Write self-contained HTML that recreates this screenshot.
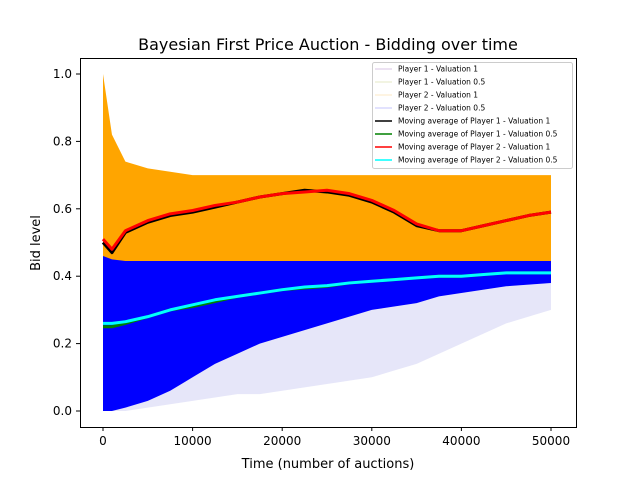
<!DOCTYPE html>
<html><head><meta charset="utf-8"><style>
body{margin:0;background:#fff;font-family:"Liberation Sans","DejaVu Sans",sans-serif}
svg text{font-family:"DejaVu Sans","Liberation Sans",sans-serif}
</style></head><body>
<svg id="chart" width="640" height="480" viewBox="0 0 640 480" xmlns="http://www.w3.org/2000/svg">
<rect width="640" height="480" fill="#fff"/>
<text x="328" y="50" font-size="16" text-anchor="middle">Bayesian First Price Auction - Bidding over time</text>
<g id="plot"></g>
<rect x="80.5" y="58.5" width="496" height="369" fill="none" stroke="#000" stroke-width="1"/>
<g id="ticks"></g>
<text x="328" y="468" font-size="13" text-anchor="middle">Time (number of auctions)</text>
<text transform="translate(40,243) rotate(-90)" font-size="13" text-anchor="middle">Bid level</text>
<g id="legend"></g>
</svg>
<script>
const times=[0,1000,2500,5000,7500,10000,12500,15000,17500,20000,22500,25000,27500,30000,32500,35000,37500,40000,42500,45000,47500,50000];
const avgP1V1=[0.50,0.47,0.53,0.56,0.58,0.59,0.605,0.62,0.635,0.645,0.655,0.65,0.64,0.62,0.59,0.55,0.535,0.535,0.55,0.565,0.58,0.59];
const avgP2V1=[0.51,0.48,0.535,0.565,0.585,0.595,0.61,0.62,0.635,0.645,0.65,0.655,0.645,0.625,0.595,0.555,0.535,0.535,0.55,0.565,0.58,0.59];
const avgP1V05=[0.25,0.25,0.26,0.28,0.30,0.31,0.325,0.34,0.35,0.36,0.365,0.37,0.38,0.385,0.39,0.395,0.40,0.40,0.405,0.41,0.41,0.41];
const avgP2V05=[0.26,0.26,0.265,0.28,0.30,0.315,0.33,0.34,0.35,0.36,0.368,0.372,0.38,0.385,0.39,0.395,0.40,0.40,0.405,0.41,0.41,0.41];
const orangeTop=[1.0,0.82,0.74,0.72,0.71,0.70,0.70,0.70,0.70,0.70,0.70,0.70,0.70,0.70,0.70,0.70,0.70,0.70,0.70,0.70,0.70,0.70];
const orangeBot=[0.45,0.44,0.43,0.43,0.43,0.43,0.43,0.43,0.43,0.43,0.43,0.43,0.43,0.43,0.43,0.43,0.43,0.43,0.43,0.43,0.43,0.43];
const blueTop=[0.46,0.45,0.445,0.445,0.445,0.445,0.445,0.445,0.445,0.445,0.445,0.445,0.445,0.445,0.445,0.445,0.445,0.445,0.445,0.445,0.445,0.445];
const blueBot=[0.0,0.0,0.01,0.03,0.06,0.10,0.14,0.17,0.20,0.22,0.24,0.26,0.28,0.30,0.31,0.32,0.34,0.35,0.36,0.37,0.375,0.38];
const faintBot=[0.0,0.0,0.0,0.01,0.02,0.03,0.04,0.05,0.05,0.06,0.07,0.08,0.09,0.10,0.12,0.14,0.17,0.20,0.23,0.26,0.28,0.30];
const xTicks=[0,10000,20000,30000,40000,50000];
const yTicks=[0.0,0.2,0.4,0.6,0.8,1.0];
const legendLabels=["Player 1 - Valuation 1","Player 1 - Valuation 0.5","Player 2 - Valuation 1","Player 2 - Valuation 0.5","Moving average of Player 1 - Valuation 1","Moving average of Player 1 - Valuation 0.5","Moving average of Player 2 - Valuation 1","Moving average of Player 2 - Valuation 0.5"];
const legendColors=["#e6d8ee","#eef0d8","#fdf0d8","#d8d8fd","#000000","#008000","#ff0000","#00ffff"];

const NS="http://www.w3.org/2000/svg";
const X=v=>103+v/50000*448;
const Y=v=>411-v*337;
const plot=document.getElementById('plot'),ticks=document.getElementById('ticks'),legend=document.getElementById('legend');
function mk(tag,attrs,parent){const e=document.createElementNS(NS,tag);for(const k in attrs)e.setAttribute(k,attrs[k]);parent.appendChild(e);return e;}
function band(top,bot,fill,name,op){
  let d=times.map((t,i)=>(i?'L':'M')+X(t)+','+Y(top[i])).join('');
  for(let i=times.length-1;i>=0;i--)d+='L'+X(times[i])+','+Y(bot[i]);
  const p=mk('path',{d:d+'Z',fill:fill,'fill-opacity':op},plot);
  
  
}
band(orangeTop,orangeBot,'#ffa500','bids-player2-valuation1',1);
band(blueBot,faintBot,'#9a9ae8','bids-player2-valuation05-spikes',0.25);
band(blueTop,blueBot,'#0000ff','bids-player2-valuation05',1);
function line(arr,color,name){
  const d=times.map((t,i)=>(i?'L':'M')+X(t)+','+Y(arr[i])).join('');
  const p=mk('path',{d:d,fill:'none',stroke:color,'stroke-width':3,'stroke-linejoin':'round'},plot);
  
  
}
line(avgP1V1,'#000','moving-average-p1-v1');
line(avgP2V1,'#ff0000','moving-average-p2-v1');
line(avgP1V05,'#008000','moving-average-p1-v05');
line(avgP2V05,'#00ffff','moving-average-p2-v05');
xTicks.forEach(t=>{
  mk('line',{x1:X(t),x2:X(t),y1:427,y2:431,stroke:'#000'},ticks);
  const tx=mk('text',{x:X(t),y:445,'font-size':12,'text-anchor':'middle'},ticks);tx.textContent=t;
  
  
});
yTicks.forEach(t=>{
  mk('line',{x1:76,x2:80,y1:Y(t),y2:Y(t),stroke:'#000'},ticks);
  const tx=mk('text',{x:72,y:Y(t)+4,'font-size':12,'text-anchor':'end'},ticks);tx.textContent=t.toFixed(1);
  
  
});
mk('rect',{x:372.5,y:62.5,width:200,height:106,fill:'#fff','fill-opacity':0.85,stroke:'#ccc',rx:2},legend);
legendLabels.forEach((l,i)=>{
  const y=69+i*13;
  mk('line',{x1:375,x2:392,y1:y,y2:y,stroke:legendColors[i],'stroke-width':1.5},legend);
  const tx=mk('text',{x:398,y:y+2.5,'font-size':7.5},legend);tx.textContent=l;
  
  
});
</script>
</body></html>
